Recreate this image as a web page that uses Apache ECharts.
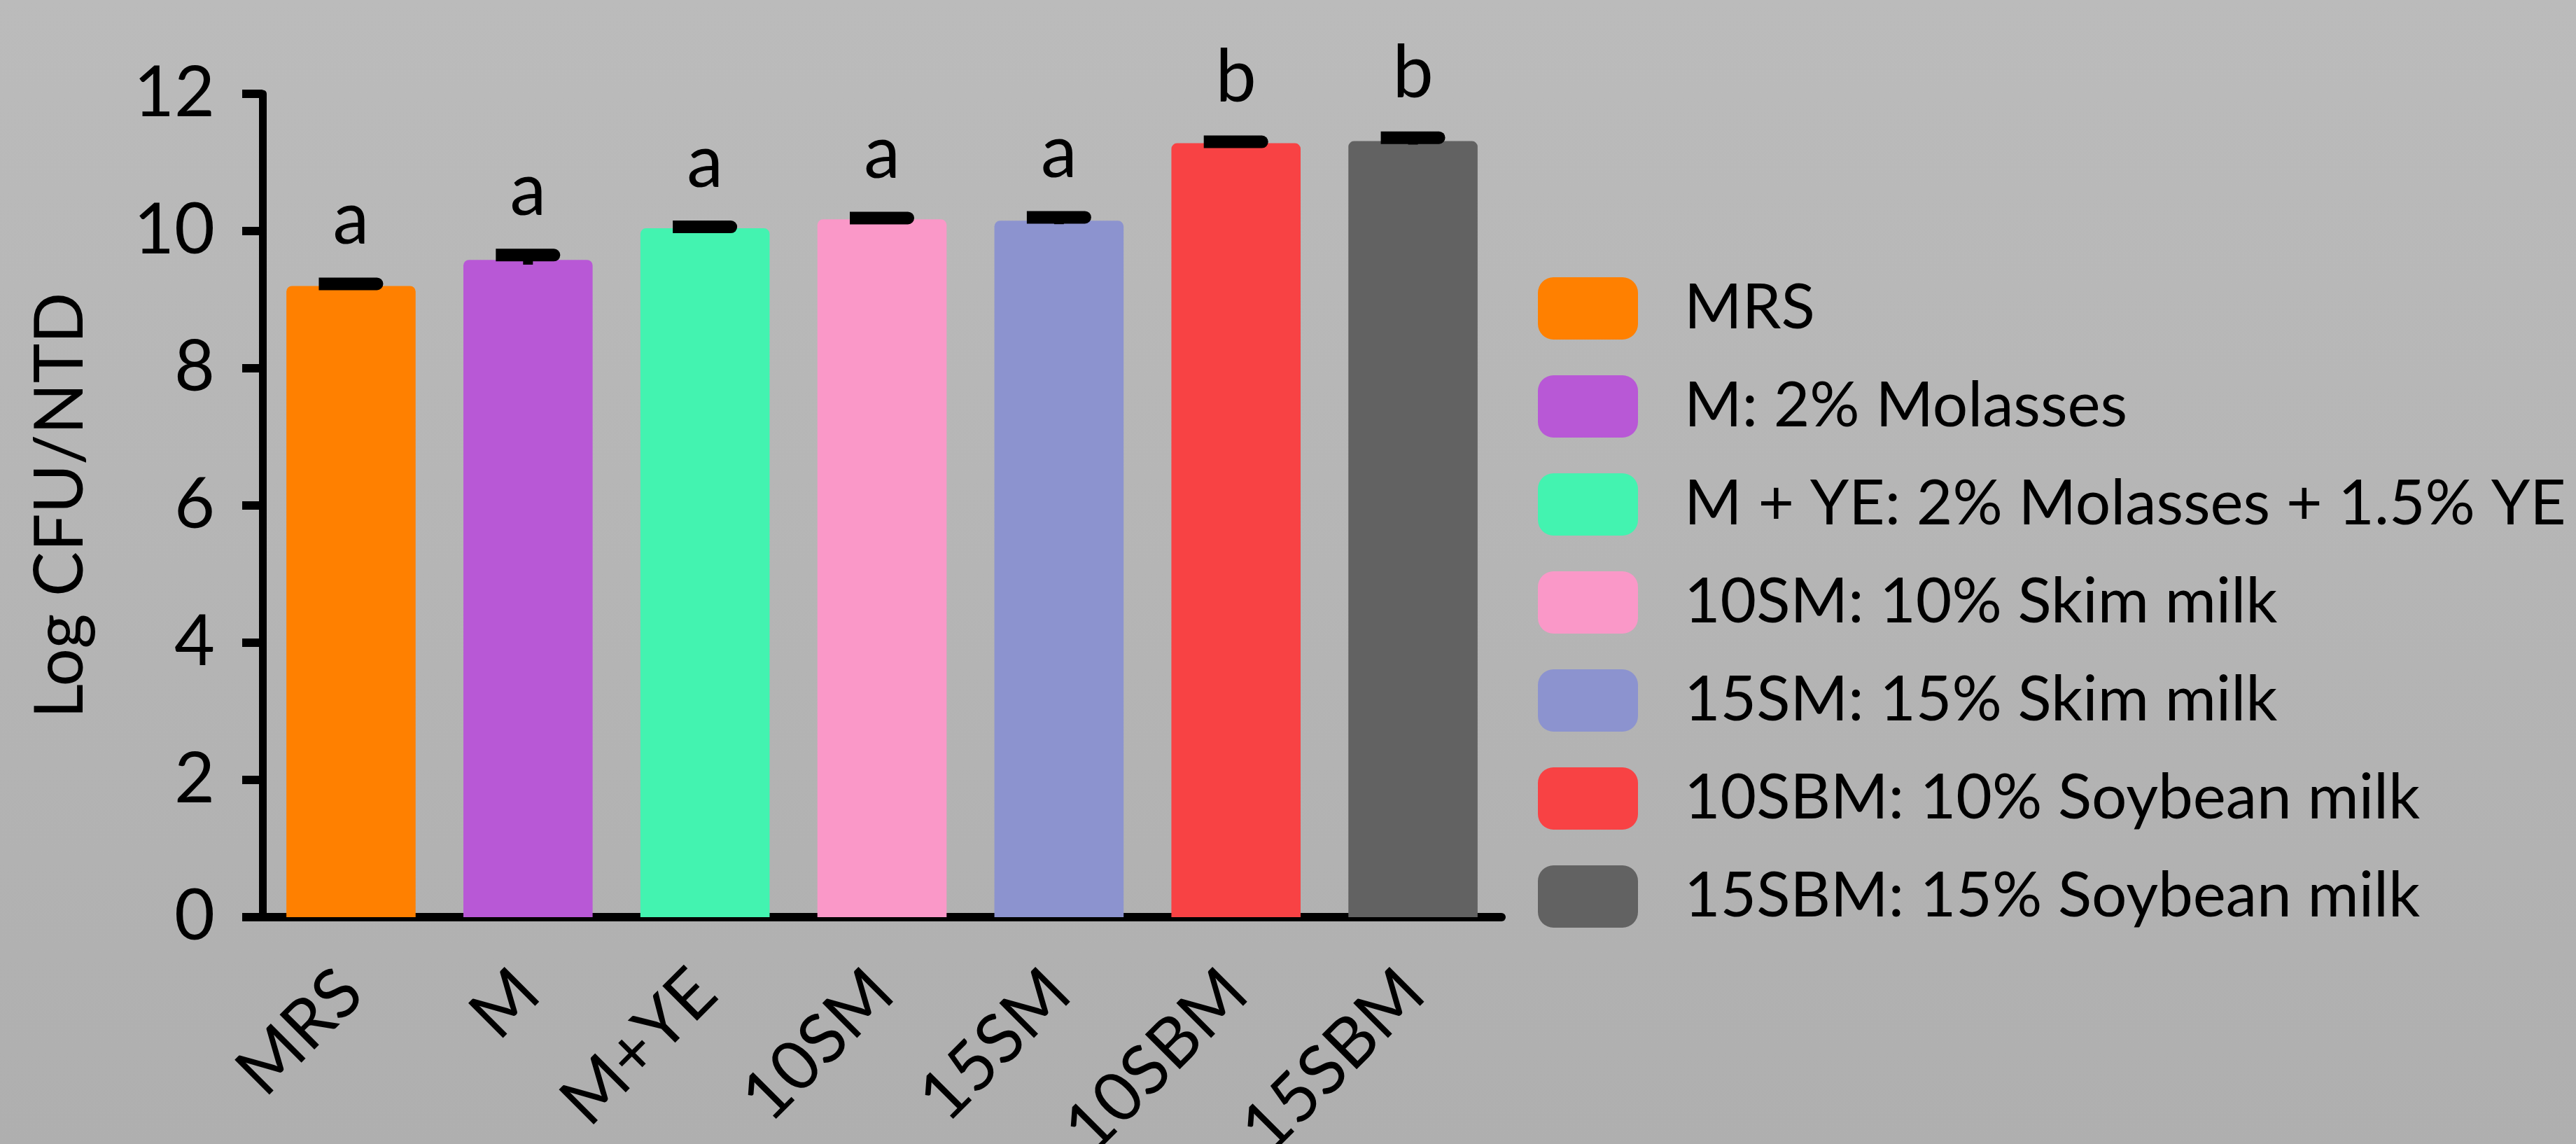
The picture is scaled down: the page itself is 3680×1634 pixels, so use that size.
<!DOCTYPE html>
<html>
<head>
<meta charset="utf-8">
<script src="https://cdn.jsdelivr.net/npm/echarts@6/dist/echarts.min.js"></script>
<style>
html,body{margin:0;padding:0;width:100%;height:100%;overflow:hidden;}
#chart{width:3680px;height:1634px;}
</style>
</head>
<body>
<div id="chart"></div>
<script>
const categories = ['MRS', 'M', 'M+YE', '10SM', '15SM', '10SBM', '15SBM'];
const legendNames = ['MRS', 'M: 2% Molasses', 'M + YE: 2% Molasses + 1.5% YE', '10SM: 10% Skim milk', '15SM: 15% Skim milk', '10SBM: 10% Soybean milk', '15SBM: 15% Soybean milk'];
const means = [9.20, 9.58, 10.04, 10.17, 10.15, 11.28, 11.31];
const errors = [0.03, 0.07, 0.02, 0.02, 0.05, 0.02, 0.05];
const letters = ['a', 'a', 'a', 'a', 'a', 'b', 'b'];
const colors = ['#ff8000', '#b858d6', '#43f3b0', '#fa98c8', '#8c93cf', '#f84244', '#626262'];
const yTicks = [0, 2, 4, 6, 8, 10, 12];

const FONT = 'Lato';

const barSeries = legendNames.map((name, i) => ({
  name: name,
  type: 'bar',
  barGap: '-100%',
  barWidth: '73%',
  itemStyle: { color: colors[i], borderRadius: [8, 8, 0, 0] },
  data: categories.map((c, j) => (j === i ? means[i] : '-')),
  z: 2
}));

const errSeries = {
  type: 'custom',
  name: 'err',
  z: 5,
  data: categories.map((c, i) => [i, means[i], errors[i]]),
  renderItem: function (params, api) {
    const idx = api.value(0);
    const m = api.value(1);
    const e = api.value(2);
    const hi = api.coord([idx, m + e]);
    const lo = api.coord([idx, m - e]);
    const capW = 92, capH = 18;
    return {
      type: 'group',
      children: [
        { type: 'line', shape: { x1: hi[0], y1: hi[1], x2: lo[0], y2: lo[1] }, style: { stroke: '#000', lineWidth: 14 } },
        { type: 'rect', shape: { x: hi[0] - capW / 2, y: hi[1] - capH / 2, width: capW, height: capH, r: [0, 9, 9, 0] }, style: { fill: '#000' } },
        { type: 'text', x: hi[0], y: hi[1] - capH / 2 - 30, style: { text: letters[params.dataIndex], fill: '#000', font: '104px ' + FONT, align: 'center', verticalAlign: 'bottom' } }
      ]
    };
  }
};

const chart = echarts.init(document.getElementById('chart'));
chart.setOption({
  animation: false,
  backgroundColor: {
    type: 'linear', x: 0, y: 0, x2: 0, y2: 1,
    colorStops: [{ offset: 0, color: '#bbbbbb' }, { offset: 1, color: '#afafaf' }]
  },
  grid: { left: 375, right: 1535, top: 134, bottom: 324, containLabel: false, outerBoundsMode: 'none' },
  legend: {
    orient: 'vertical',
    left: 2197,
    top: 396,
    padding: 0,
    itemWidth: 143,
    itemHeight: 89,
    itemGap: 51,
    icon: 'roundRect',
    data: legendNames,
    textStyle: { fontFamily: FONT, fontSize: 89, color: '#000', lineHeight: 89, padding: [0, 0, 0, 61] }
  },
  xAxis: {
    type: 'category',
    data: categories,
    axisLine: { lineStyle: { color: '#000', width: 12 } },
    axisTick: { alignWithLabel: true, length: 28, lineStyle: { color: '#000', width: 11 } },
    axisLabel: { rotate: 45, margin: 92, fontFamily: FONT, fontSize: 98, color: '#000' },
    splitLine: { show: false }
  },
  yAxis: {
    type: 'value',
    min: 0,
    max: 12,
    interval: 2,
    name: 'Log CFU/NTD',
    nameLocation: 'middle',
    nameGap: 240,
    nameRotate: 90,
    nameTextStyle: { fontFamily: FONT, fontSize: 96, color: '#000' },
    axisLine: { show: true, lineStyle: { color: '#000', width: 11 } },
    axisTick: { show: true, length: 29, lineStyle: { color: '#000', width: 12 } },
    axisLabel: { margin: 68, fontFamily: FONT, fontSize: 100, color: '#000',
      formatter: v => (yTicks.indexOf(v) >= 0 ? String(v) : '') },
    splitLine: { show: false }
  },
  series: barSeries.concat([errSeries])
});
</script>
</body>
</html>
